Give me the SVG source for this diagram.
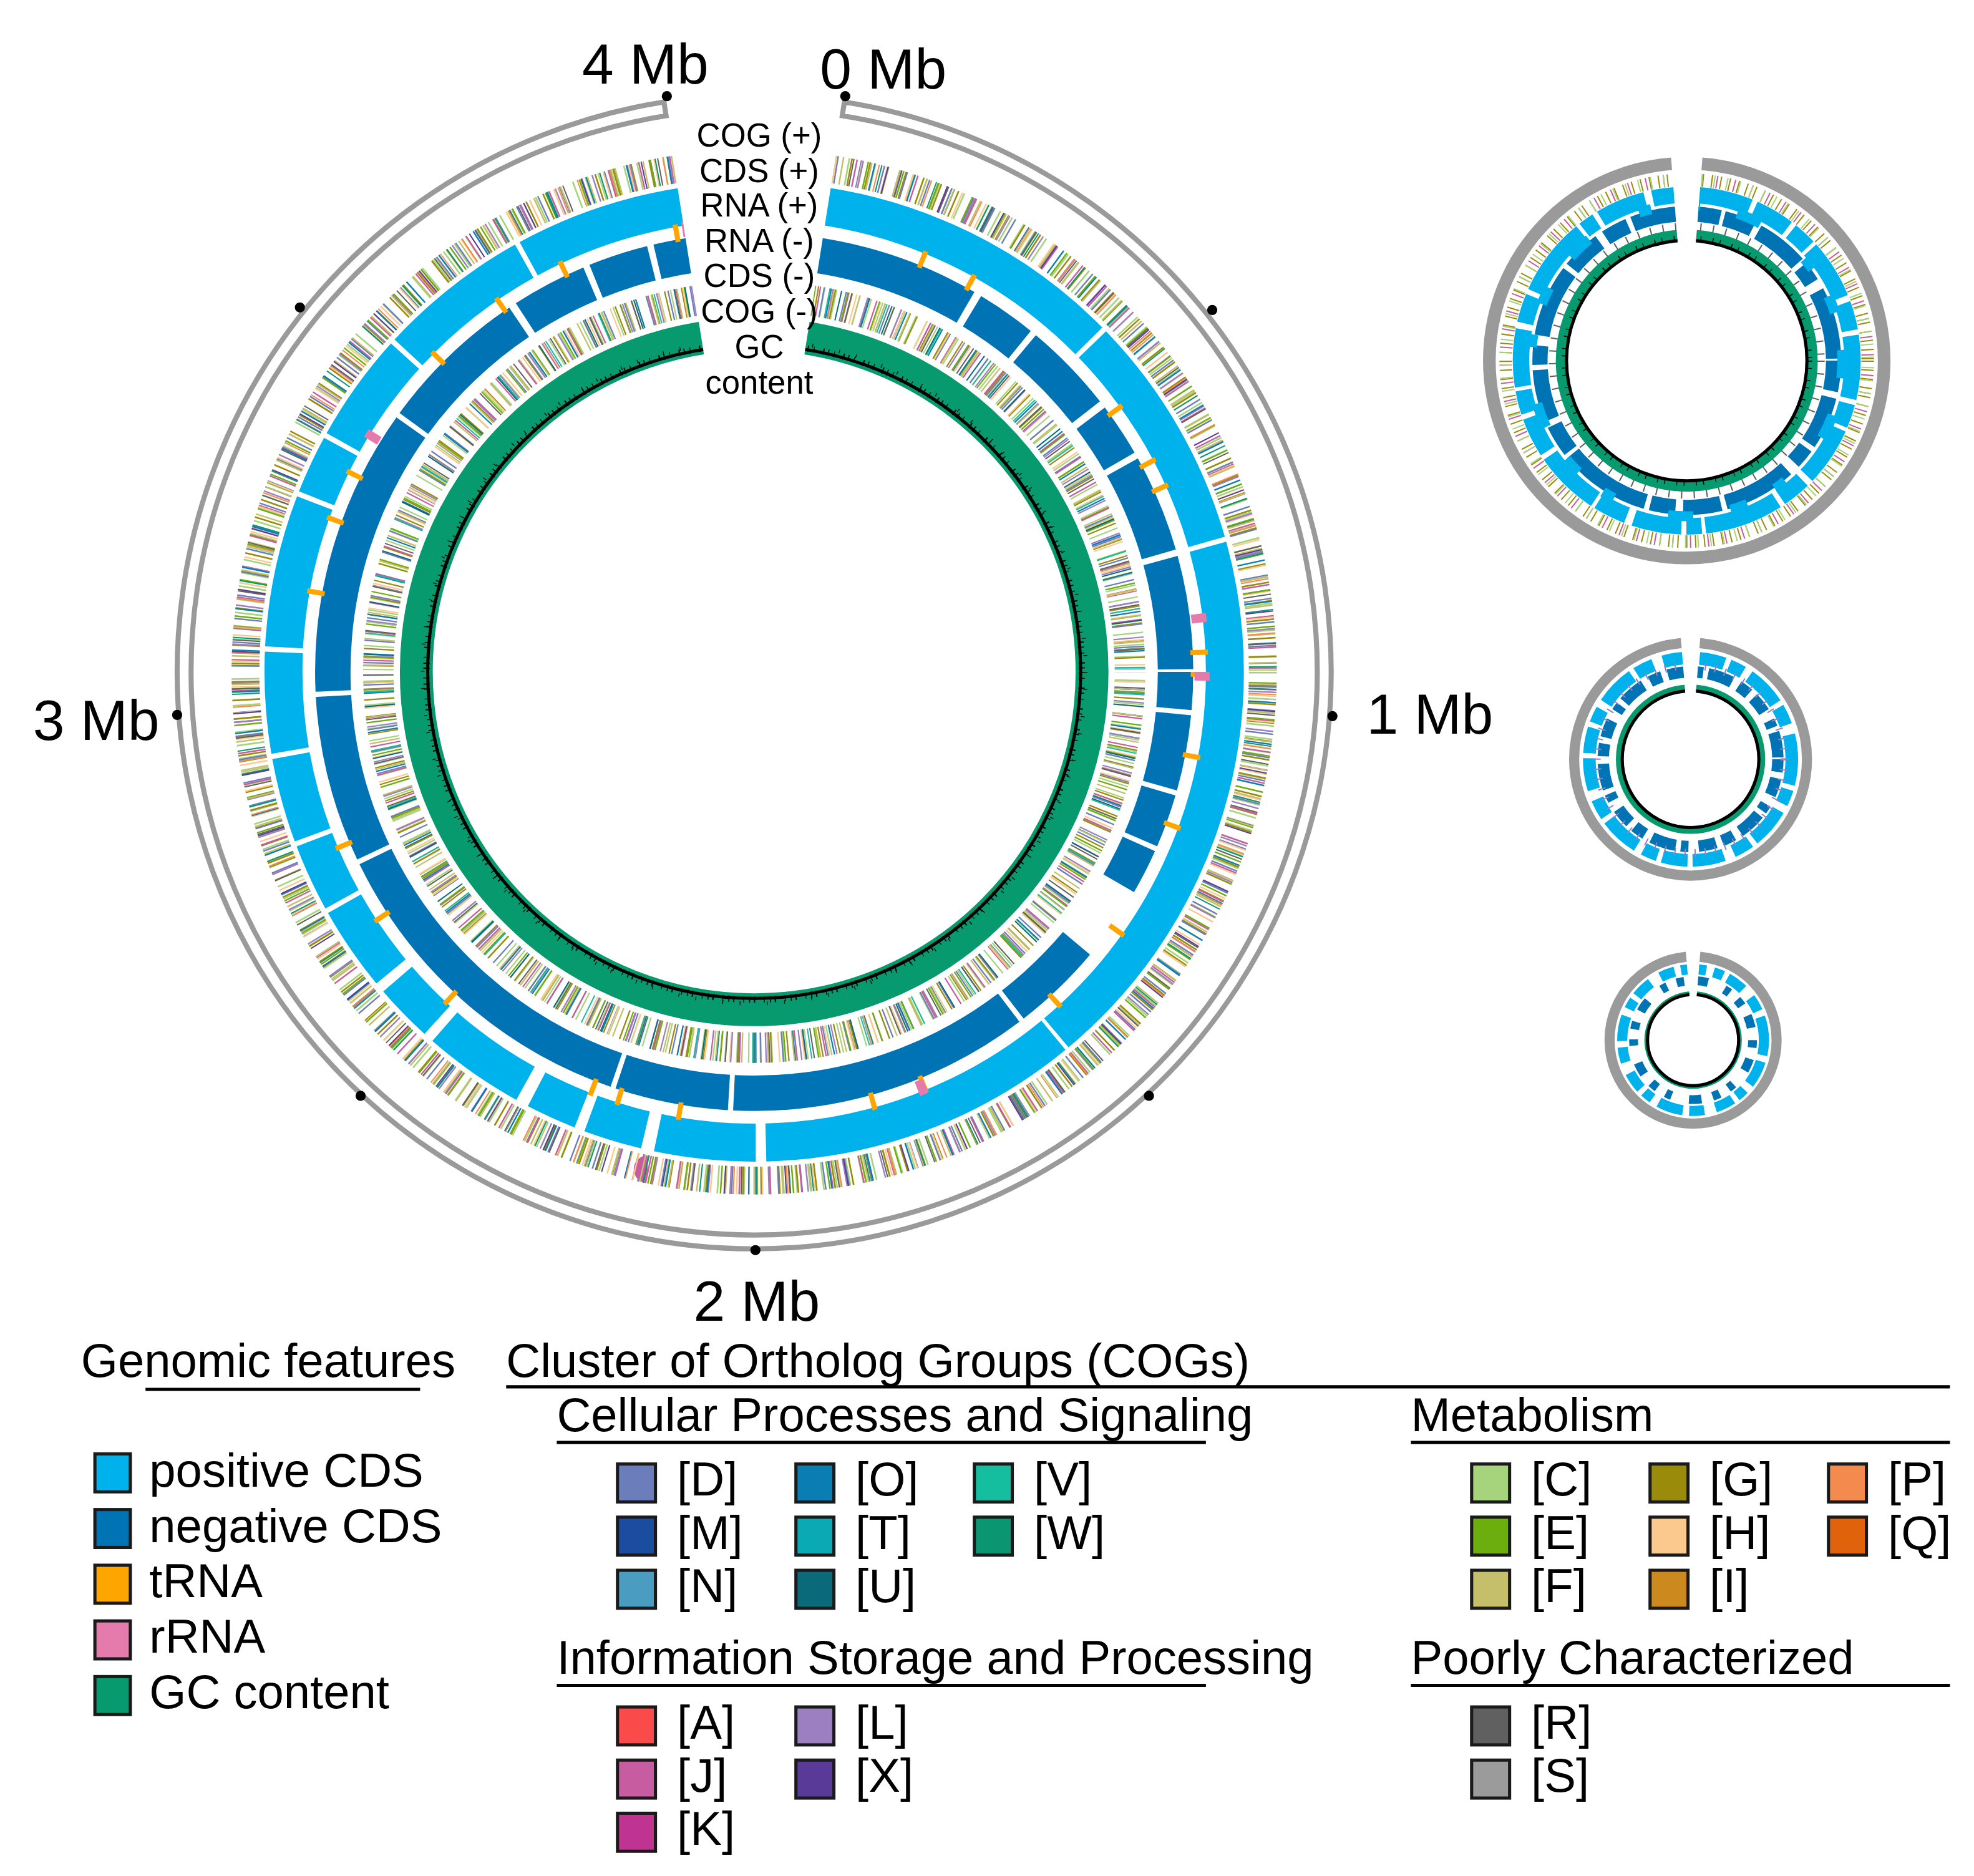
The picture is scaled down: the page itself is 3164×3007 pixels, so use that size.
<svg xmlns="http://www.w3.org/2000/svg" width="3164" height="3007" viewBox="0 0 3164 3007">
<style>
text{font-family:"Liberation Sans",Arial,sans-serif;fill:#000}
.mb{font-size:45px}
.tl{font-size:26px;text-anchor:middle}
.lg{font-size:37.5px}
.sq{stroke:#1a1a1a;stroke-width:2.5}
.ul{stroke:#000;stroke-width:2.5}
.tk{fill:none;stroke-width:22}
.tk2{fill:none;stroke-width:24}
.grey{fill:none;stroke:#9a9a9a}
</style>
<defs>
<clipPath id="cm"><polygon points="596,531 680,0 1100,0 1100,1100 0,1100 0,0 512,0"/></clipPath>
<clipPath id="c1"><polygon points="1333,285 1355,0 1600,0 1600,600 1000,600 1000,0 1311,0"/></clipPath>
<clipPath id="c2"><polygon points="1336,600 1348,450 1500,450 1500,760 1180,760 1180,450 1324,450"/></clipPath>
<clipPath id="c3"><polygon points="1338,822 1348,700 1460,700 1460,950 1220,950 1220,700 1328,700"/></clipPath>
</defs>
<rect width="3164" height="3007" fill="#fff"/>
<g transform="scale(2.0282)">
<g id="main-circle">
<path class="grey" stroke-width="4" d="M667.3,80.6 A456,456 0 1 1 524.7,80.6 L526.4,91.5 A445,445 0 1 0 665.6,91.5 Z"/>
<g fill="#000">
<circle cx="668" cy="76" r="4"/><circle cx="1053" cy="566" r="4"/><circle cx="597" cy="988" r="4"/><circle cx="140" cy="565" r="4"/><circle cx="527" cy="76" r="4"/>
<circle cx="958" cy="245" r="4"/><circle cx="908" cy="866" r="4"/><circle cx="285" cy="866" r="4"/><circle cx="237" cy="243" r="4"/>
</g>
<g clip-path="url(#cm)">
<g id="cog-plus">
<circle cx="596" cy="531" r="402" class="tk" stroke="#A6D47C" stroke-dasharray="1.3 9"/>
<circle cx="596" cy="531" r="402" class="tk" stroke="#9A8C0A" stroke-dasharray="1.3 13" stroke-dashoffset="4"/>
<circle cx="596" cy="531" r="402" class="tk" stroke="#6B7DBB" stroke-dasharray="1.2 17" stroke-dashoffset="7"/>
<circle cx="596" cy="531" r="402" class="tk" stroke="#C85CA0" stroke-dasharray="1.2 23" stroke-dashoffset="11"/>
<circle cx="596" cy="531" r="402" class="tk" stroke="#FBC98E" stroke-dasharray="1.2 19" stroke-dashoffset="2"/>
<circle cx="596" cy="531" r="402" class="tk" stroke="#9B7FC0" stroke-dasharray="1.2 29" stroke-dashoffset="15"/>
<circle cx="596" cy="531" r="402" class="tk" stroke="#0A7DB3" stroke-dasharray="1.2 31" stroke-dashoffset="9"/>
<circle cx="596" cy="531" r="402" class="tk" stroke="#6BAE0E" stroke-dasharray="1.2 27" stroke-dashoffset="20"/>
<circle cx="596" cy="531" r="402" class="tk" stroke="#C5BE6A" stroke-dasharray="1.2 21" stroke-dashoffset="13"/>
<circle cx="596" cy="531" r="402" class="tk" stroke="#606060" stroke-dasharray="1 37" stroke-dashoffset="5"/>
<circle cx="596" cy="531" r="402" class="tk" stroke="#F58A4E" stroke-dasharray="1 41" stroke-dashoffset="25"/>
<circle cx="596" cy="531" r="402" class="tk" stroke="#0A9670" stroke-dasharray="1 43" stroke-dashoffset="31"/>
<circle cx="596" cy="531" r="402" class="tk" stroke="#5A3A98" stroke-dasharray="1 47" stroke-dashoffset="18"/>
</g>
<g id="cog-minus">
<circle cx="596" cy="531" r="297" class="tk2" stroke="#A6D47C" stroke-dasharray="1.1 8" stroke-dashoffset="3"/>
<circle cx="596" cy="531" r="297" class="tk2" stroke="#9A8C0A" stroke-dasharray="1.1 12" stroke-dashoffset="6"/>
<circle cx="596" cy="531" r="297" class="tk2" stroke="#6B7DBB" stroke-dasharray="1.1 16" stroke-dashoffset="1"/>
<circle cx="596" cy="531" r="297" class="tk2" stroke="#C85CA0" stroke-dasharray="1.1 21" stroke-dashoffset="9"/>
<circle cx="596" cy="531" r="297" class="tk2" stroke="#FBC98E" stroke-dasharray="1.1 18" stroke-dashoffset="12"/>
<circle cx="596" cy="531" r="297" class="tk2" stroke="#9B7FC0" stroke-dasharray="1.1 26" stroke-dashoffset="4"/>
<circle cx="596" cy="531" r="297" class="tk2" stroke="#0A7DB3" stroke-dasharray="1.1 29" stroke-dashoffset="17"/>
<circle cx="596" cy="531" r="297" class="tk2" stroke="#6BAE0E" stroke-dasharray="1.1 24" stroke-dashoffset="10"/>
<circle cx="596" cy="531" r="297" class="tk2" stroke="#C5BE6A" stroke-dasharray="1.1 19" stroke-dashoffset="7"/>
<circle cx="596" cy="531" r="297" class="tk2" stroke="#606060" stroke-dasharray="1 33" stroke-dashoffset="22"/>
<circle cx="596" cy="531" r="297" class="tk2" stroke="#0A6A7A" stroke-dasharray="1 39" stroke-dashoffset="14"/>
<circle cx="596" cy="531" r="297" class="tk2" stroke="#15BE9E" stroke-dasharray="1 44" stroke-dashoffset="28"/>
</g>
<g id="cds-plus">
<circle cx="596" cy="531" r="372" fill="none" stroke="#00B2EC" stroke-width="30" stroke-dasharray="325 3 247 8 78 10 45 8 39 10 78 8 45 8 65 4 52 4 65 4 78 4 117 4 45 4 84 4 117 4 480 4 182 4 195 0"/>
</g>
<g id="cds-minus">
<circle cx="596" cy="531" r="333" fill="none" stroke="#0073B5" stroke-width="28" stroke-dasharray="29 4 58 4 41 4 35 58 70 4 232 4 87 4 261 4 128 4 221 4 116 6 58 5 46 5 41 8 203 6 46 5 70 6 41 5 75 5 87 4 87 0"/>
</g>
<g id="rna">
<circle cx="596" cy="531" r="352" fill="none" stroke="#FFA500" stroke-width="14" stroke-dasharray="4 61 4 53 4 90 4 70 4 120 4 38 4 150 4 45 4 18 4 130 4 80 4 60 4 200 4 55 4 35 4 110"/>
<circle cx="596" cy="531" r="354" fill="none" stroke="#E57BAC" stroke-width="12" stroke-dasharray="7 410 7 880 7 300 7 560"/>
</g>
<g id="gc">
<circle cx="596" cy="531" r="267" fill="none" stroke="#069A6E" stroke-width="26"/>
<circle cx="596" cy="531" r="258" fill="none" stroke="#000" stroke-width="2.5"/>
<circle cx="596" cy="531" r="259" fill="none" stroke="#000" stroke-width="5" stroke-dasharray="0.8 4 0.6 7 1 3"/>
<circle cx="596" cy="531" r="262" fill="none" stroke="#000" stroke-width="3" stroke-dasharray="0.6 13 0.6 21"/>
</g>
</g>
<text class="mb" x="460" y="66">4 Mb</text>
<text class="mb" x="648" y="70">0 Mb</text>
<text class="mb" x="1080" y="580">1 Mb</text>
<text class="mb" x="548" y="1044">2 Mb</text>
<text class="mb" x="26" y="585">3 Mb</text>
<text class="tl" x="600" y="116">COG (+)</text>
<text class="tl" x="600" y="144">CDS (+)</text>
<text class="tl" x="600" y="171">RNA (+)</text>
<text class="tl" x="600" y="199">RNA (-)</text>
<text class="tl" x="600" y="227">CDS (-)</text>
<text class="tl" x="600" y="255">COG (-)</text>
<text class="tl" x="600" y="283">GC</text>
<text class="tl" x="600" y="311">content</text>
</g>
<g id="small-circle-1" clip-path="url(#c1)">
<circle cx="1333" cy="285" r="156" class="grey" stroke-width="10"/>
<circle cx="1333" cy="285" r="143" fill="none" stroke="#9A8C0A" stroke-width="10" stroke-dasharray="1 6"/>
<circle cx="1333" cy="285" r="143" fill="none" stroke="#C85CA0" stroke-width="10" stroke-dasharray="1 13" stroke-dashoffset="3"/>
<circle cx="1333" cy="285" r="143" fill="none" stroke="#A6D47C" stroke-width="10" stroke-dasharray="1 9" stroke-dashoffset="5"/>
<circle cx="1333" cy="285" r="131" fill="none" stroke="#00B2EC" stroke-width="13" stroke-dasharray="30 4 18 3 45 5 22 4 60 3 12 4 38 6 25 3 50 4"/>
<circle cx="1333" cy="285" r="116" fill="none" stroke="#0073B5" stroke-width="12" stroke-dasharray="24 5 40 4 15 8 55 4 30 6 20 4 70 3"/>
<circle cx="1333" cy="285" r="123" fill="none" stroke="#00B2EC" stroke-width="8" stroke-dasharray="14 30 20 45 10 25"/>
<circle cx="1333" cy="285" r="106" fill="none" stroke="#606060" stroke-width="6" stroke-dasharray="1 9"/>
<circle cx="1333" cy="285" r="99" fill="none" stroke="#069A6E" stroke-width="9"/>
<circle cx="1333" cy="285" r="95" fill="none" stroke="#000" stroke-width="2.5"/>
<circle cx="1333" cy="285" r="97" fill="none" stroke="#000" stroke-width="4" stroke-dasharray="0.8 5 0.6 9"/>
</g>
<g id="small-circle-2" clip-path="url(#c2)">
<circle cx="1336" cy="600" r="92" class="grey" stroke-width="8"/>
<circle cx="1336" cy="600" r="80" fill="none" stroke="#00B2EC" stroke-width="10" stroke-dasharray="20 4 12 6 30 4 15 8 25 4"/>
<circle cx="1336" cy="600" r="69" fill="none" stroke="#0073B5" stroke-width="9" stroke-dasharray="10 5 14 8 6 4 20 6"/>
<circle cx="1336" cy="600" r="74" fill="none" stroke="#9B7FC0" stroke-width="6" stroke-dasharray="1 7"/>
<circle cx="1336" cy="600" r="56" fill="none" stroke="#069A6E" stroke-width="6"/>
<circle cx="1336" cy="600" r="54" fill="none" stroke="#000" stroke-width="2.5"/>
</g>
<g id="small-circle-3" clip-path="url(#c3)">
<circle cx="1338" cy="822" r="66" class="grey" stroke-width="8"/>
<circle cx="1338" cy="822" r="56" fill="none" stroke="#00B2EC" stroke-width="8" stroke-dasharray="12 5 20 6 8 4 15 9"/>
<circle cx="1338" cy="822" r="47" fill="none" stroke="#0073B5" stroke-width="7" stroke-dasharray="6 9 10 14 5 8"/>
<circle cx="1338" cy="822" r="37" fill="none" stroke="#069A6E" stroke-width="3"/>
<circle cx="1338" cy="822" r="36" fill="none" stroke="#000" stroke-width="2.5"/>
</g>
<g id="legend-genomic">
<text class="lg" x="64" y="1088">Genomic features</text>
<line class="ul" x1="115" y1="1098" x2="332" y2="1098"/>
<rect class="sq" x="75" y="1149" width="28" height="30" fill="#00B2EC"/><text class="lg" x="118" y="1175">positive CDS</text>
<rect class="sq" x="75" y="1193" width="28" height="30" fill="#0073B5"/><text class="lg" x="118" y="1219">negative CDS</text>
<rect class="sq" x="75" y="1237" width="28" height="30" fill="#FFA500"/><text class="lg" x="118" y="1262">tRNA</text>
<rect class="sq" x="75" y="1281" width="28" height="30" fill="#E57BAC"/><text class="lg" x="118" y="1306">rRNA</text>
<rect class="sq" x="75" y="1325" width="28" height="30" fill="#069A6E"/><text class="lg" x="118" y="1350">GC content</text>
</g>
<g id="legend-cog">
<text class="lg" x="400" y="1088">Cluster of Ortholog Groups (COGs)</text>
<line class="ul" x1="400" y1="1096" x2="1541" y2="1096"/>
<text class="lg" x="440" y="1131">Cellular Processes and Signaling</text>
<line class="ul" x1="440" y1="1140" x2="953" y2="1140"/>
<text class="lg" x="1115" y="1131">Metabolism</text>
<line class="ul" x1="1115" y1="1140" x2="1541" y2="1140"/>
<rect class="sq" x="488" y="1157" width="30" height="30" fill="#6B7DBB"/><text class="lg" x="535" y="1182">[D]</text>
<rect class="sq" x="629" y="1157" width="30" height="30" fill="#0A7DB3"/><text class="lg" x="676" y="1182">[O]</text>
<rect class="sq" x="770" y="1157" width="30" height="30" fill="#15BE9E"/><text class="lg" x="817" y="1182">[V]</text>
<rect class="sq" x="488" y="1199" width="30" height="30" fill="#1A4CA0"/><text class="lg" x="535" y="1224">[M]</text>
<rect class="sq" x="629" y="1199" width="30" height="30" fill="#0AAAB5"/><text class="lg" x="676" y="1224">[T]</text>
<rect class="sq" x="770" y="1199" width="30" height="30" fill="#0A9670"/><text class="lg" x="817" y="1224">[W]</text>
<rect class="sq" x="488" y="1241" width="30" height="30" fill="#4A9DC0"/><text class="lg" x="535" y="1266">[N]</text>
<rect class="sq" x="629" y="1241" width="30" height="30" fill="#0A6A7A"/><text class="lg" x="676" y="1266">[U]</text>
<rect class="sq" x="1163" y="1157" width="30" height="30" fill="#A6D47C"/><text class="lg" x="1210" y="1182">[C]</text>
<rect class="sq" x="1304" y="1157" width="30" height="30" fill="#9A8C0A"/><text class="lg" x="1351" y="1182">[G]</text>
<rect class="sq" x="1445" y="1157" width="30" height="30" fill="#F58A4E"/><text class="lg" x="1492" y="1182">[P]</text>
<rect class="sq" x="1163" y="1199" width="30" height="30" fill="#6BAE0E"/><text class="lg" x="1210" y="1224">[E]</text>
<rect class="sq" x="1304" y="1199" width="30" height="30" fill="#FBC98E"/><text class="lg" x="1351" y="1224">[H]</text>
<rect class="sq" x="1445" y="1199" width="30" height="30" fill="#E0620A"/><text class="lg" x="1492" y="1224">[Q]</text>
<rect class="sq" x="1163" y="1241" width="30" height="30" fill="#C5BE6A"/><text class="lg" x="1210" y="1266">[F]</text>
<rect class="sq" x="1304" y="1241" width="30" height="30" fill="#CC8A1E"/><text class="lg" x="1351" y="1266">[I]</text>
<text class="lg" x="440" y="1323">Information Storage and Processing</text>
<line class="ul" x1="440" y1="1332" x2="953" y2="1332"/>
<text class="lg" x="1115" y="1323">Poorly Characterized</text>
<line class="ul" x1="1115" y1="1332" x2="1541" y2="1332"/>
<rect class="sq" x="488" y="1349" width="30" height="30" fill="#FB4A4A"/><text class="lg" x="535" y="1374">[A]</text>
<rect class="sq" x="629" y="1349" width="30" height="30" fill="#9B7FC0"/><text class="lg" x="676" y="1374">[L]</text>
<rect class="sq" x="488" y="1391" width="30" height="30" fill="#C85CA0"/><text class="lg" x="535" y="1416">[J]</text>
<rect class="sq" x="629" y="1391" width="30" height="30" fill="#5A3A98"/><text class="lg" x="676" y="1416">[X]</text>
<rect class="sq" x="488" y="1433" width="30" height="30" fill="#BE3490"/><text class="lg" x="535" y="1458">[K]</text>
<rect class="sq" x="1163" y="1349" width="30" height="30" fill="#606060"/><text class="lg" x="1210" y="1374">[R]</text>
<rect class="sq" x="1163" y="1391" width="30" height="30" fill="#9B9B9B"/><text class="lg" x="1210" y="1416">[S]</text>
</g>
</g>
</svg>
